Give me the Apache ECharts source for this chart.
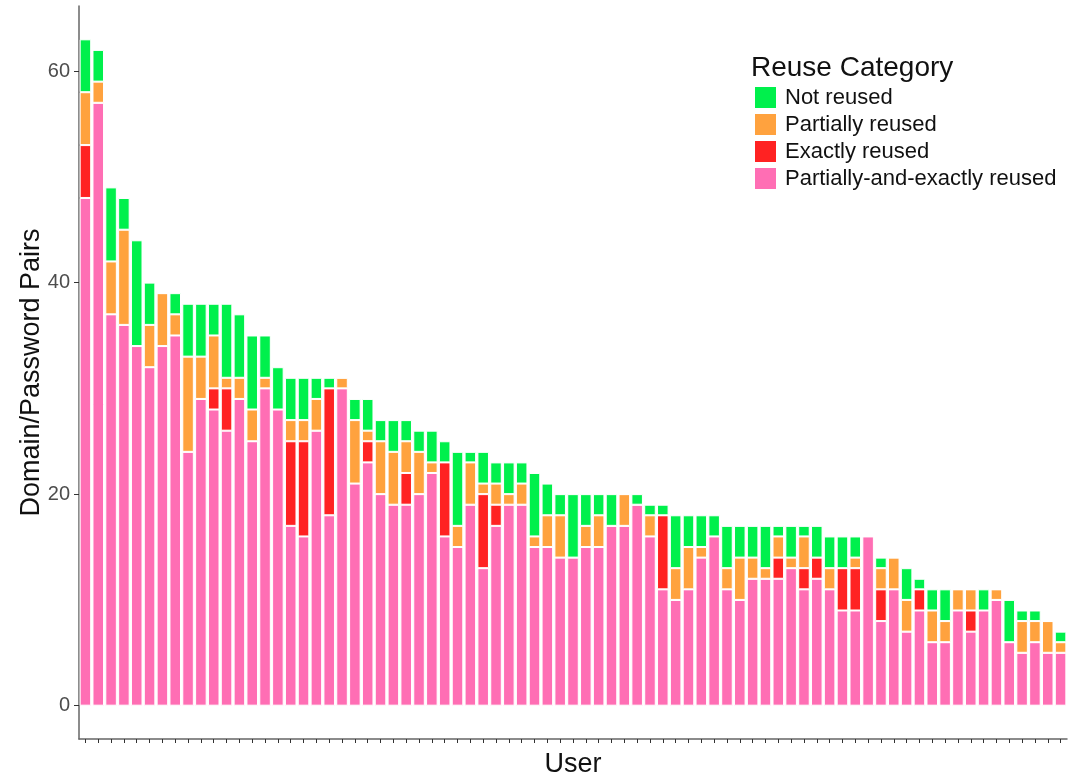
<!DOCTYPE html>
<html>
<head>
<meta charset="utf-8">
<title>Reuse Category</title>
<script src="https://cdn.jsdelivr.net/npm/echarts@6.0.0/dist/echarts.min.js"></script>
<style>
  html, body { margin: 0; padding: 0; background: #fff; }
  #chart { width: 1074px; height: 775px; }
</style>
</head>
<body>
<div id="chart"></div>
<script>
// bottom to top: pink, red, orange, green (one entry per user, sorted by total)
const pinkVals = [48, 57, 37, 36, 34, 32, 34, 35, 24, 29, 28, 26, 29, 25, 30, 28, 17, 16, 26, 18,
  30, 21, 23, 20, 19, 19, 20, 22, 16, 15, 19, 13, 17, 19, 19, 15, 15, 14, 14, 15,
  15, 17, 17, 19, 16, 11, 10, 11, 14, 16, 11, 10, 12, 12, 12, 13, 11, 12, 11, 9,
  9, 16, 8, 11, 7, 9, 6, 6, 9, 7, 9, 10, 6, 5, 6, 5, 5];
const redVals = [5, 0, 0, 0, 0, 0, 0, 0, 0, 0, 2, 4, 0, 0, 0, 0, 8, 9, 0, 12,
  0, 0, 2, 0, 0, 3, 0, 0, 7, 0, 0, 7, 2, 0, 0, 0, 0, 0, 0, 0,
  0, 0, 0, 0, 0, 7, 0, 0, 0, 0, 0, 0, 0, 0, 2, 0, 2, 2, 0, 4,
  4, 0, 3, 0, 0, 2, 0, 0, 0, 2, 0, 0, 0, 0, 0, 0, 0];
const orangeVals = [5, 2, 5, 9, 0, 4, 5, 2, 9, 4, 5, 1, 2, 3, 1, 0, 2, 2, 3, 0,
  1, 6, 1, 5, 5, 3, 4, 1, 0, 2, 4, 1, 2, 1, 2, 1, 3, 4, 0, 2,
  3, 0, 3, 0, 2, 0, 3, 4, 1, 0, 2, 4, 2, 1, 2, 1, 3, 0, 2, 0,
  1, 0, 2, 3, 3, 0, 3, 2, 2, 2, 0, 1, 0, 3, 2, 3, 1];
const greenVals = [5, 3, 7, 3, 10, 4, 0, 2, 5, 5, 3, 7, 6, 7, 4, 4, 4, 4, 2, 1,
  0, 2, 3, 2, 3, 2, 2, 3, 2, 7, 1, 3, 2, 3, 2, 6, 3, 2, 6, 3,
  2, 3, 0, 1, 1, 1, 5, 3, 3, 2, 4, 3, 3, 4, 1, 3, 1, 3, 3, 3,
  2, 0, 1, 0, 3, 1, 2, 3, 0, 0, 2, 0, 4, 1, 1, 0, 1];
const users = pinkVals.map((_, i) => 'User ' + (i + 1));
const yTicks = [0, 20, 40, 60];

const fontFamily = '"Liberation Sans", Arial, sans-serif';

function barSeries(name, data, color) {
  return {
    name: name,
    type: 'bar',
    stack: 'total',
    data: data,
    barCategoryGap: '10%',
    itemStyle: { color: color, borderColor: '#fff', borderWidth: 1 },
    emphasis: { disabled: true }
  };
}

let myChart = echarts.init(document.getElementById('chart'), null, { renderer: 'canvas' });
const option = {
  animation: false,
  backgroundColor: '#fff',
  textStyle: { fontFamily: fontFamily },
  title: {
    text: 'Reuse Category',
    left: 751,
    top: 54,
    padding: 0,
    textStyle: { fontFamily: fontFamily, fontSize: 28, fontWeight: 'normal', color: '#111' }
  },
  legend: {
    orient: 'vertical',
    left: 753,
    top: 85,
    padding: 0,
    itemWidth: 23,
    itemHeight: 23,
    itemGap: 2,
    icon: 'rect',
    data: ['Not reused', 'Partially reused', 'Exactly reused', 'Partially-and-exactly reused'],
    textStyle: { fontFamily: fontFamily, fontSize: 22, lineHeight: 23, color: '#111', padding: [0, 0, 0, 3] }
  },
  grid: { left: 79, right: 7, top: 6, bottom: 36, outerBoundsMode: 'none', containLabel: false },
  xAxis: {
    type: 'category',
    data: users,
    name: 'User',
    nameLocation: 'middle',
    nameGap: 12,
    nameMoveOverlap: false,
    nameTextStyle: { fontSize: 27, color: '#111' },
    axisLine: { show: true, onZero: false, lineStyle: { color: '#666', width: 1.5 } },
    axisTick: { show: true, interval: 0, alignWithLabel: true, length: 4, lineStyle: { color: '#333' } },
    axisLabel: { show: false },
    splitLine: { show: false }
  },
  yAxis: {
    type: 'value',
    min: -3.15,
    max: 66.15,
    name: 'Domain/Password Pairs',
    nameLocation: 'middle',
    nameGap: 34,
    nameMoveOverlap: false,
    nameTextStyle: { fontSize: 27, color: '#111' },
    axisLine: { show: true, lineStyle: { color: '#666', width: 1.5 } },
    axisTick: { show: true, length: 5, customValues: yTicks, lineStyle: { color: '#333' } },
    axisLabel: { customValues: yTicks, fontSize: 20, color: '#4d4d4d', margin: 9 },
    splitLine: { show: false }
  },
  series: [
    barSeries('Partially-and-exactly reused', pinkVals, '#FF6EB4'),
    barSeries('Exactly reused', redVals, '#FF2222'),
    barSeries('Partially reused', orangeVals, '#FFA23E'),
    barSeries('Not reused', greenVals, '#00F04C')
  ]
};
myChart.setOption(option, true);

window.addEventListener('resize', () => {
  myChart.resize();
});
</script>
</body>
</html>
